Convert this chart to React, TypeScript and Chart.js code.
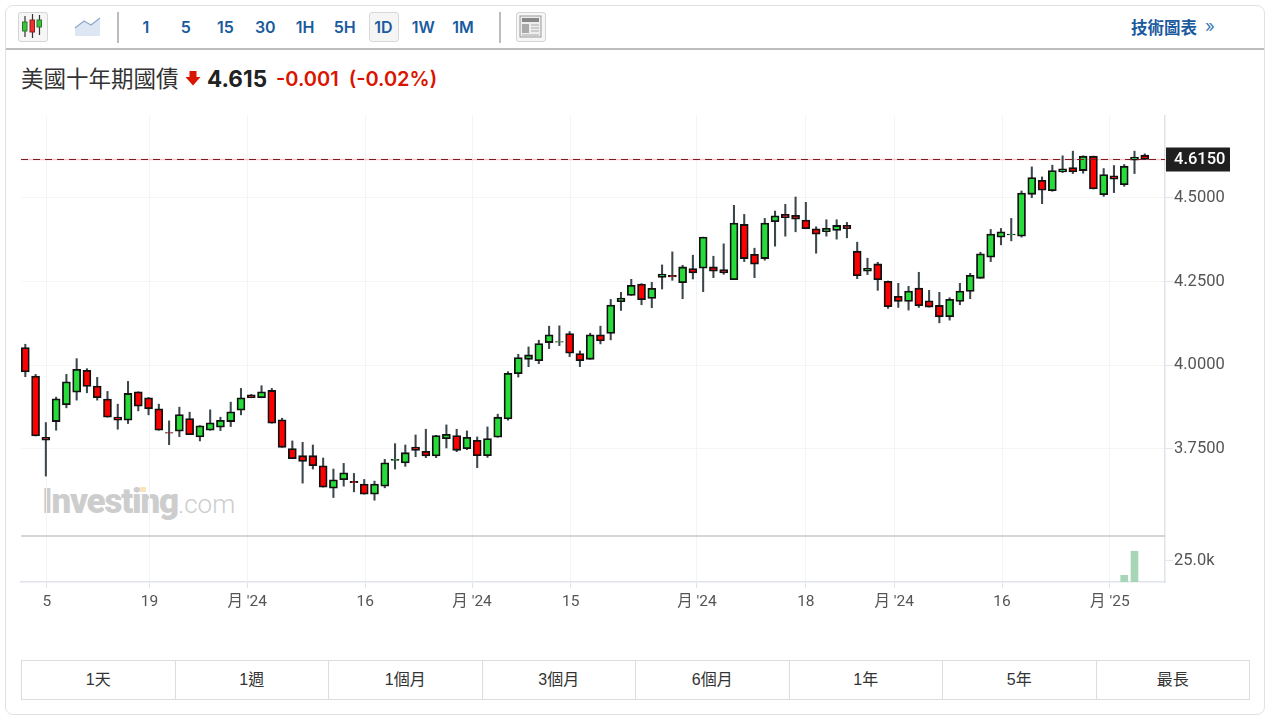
import { useEffect, useRef } from 'react';
import { Chart, registerables } from 'chart.js';

Chart.register(...registerables);

const OPENS = [
  4.053, 3.968, 3.785, 3.832, 3.882, 3.920, 3.985, 3.938, 3.899, 3.845,
  3.836, 3.921, 3.903, 3.870, 3.799, 3.803, 3.841, 3.786, 3.806, 3.815,
  3.832, 3.866, 3.912, 3.903, 3.925, 3.837, 3.751, 3.730, 3.730, 3.700,
  3.633, 3.658, 3.653, 3.645, 3.615, 3.639, 3.716, 3.708, 3.756, 3.743,
  3.729, 3.781, 3.790, 3.751, 3.776, 3.730, 3.785, 3.840, 3.975, 4.018,
  4.014, 4.068, 4.069, 4.095, 4.035, 4.018, 4.091, 4.095, 4.190, 4.209,
  4.243, 4.200, 4.263, 4.269, 4.247, 4.289, 4.290, 4.294, 4.286, 4.256,
  4.421, 4.332, 4.319, 4.429, 4.451, 4.448, 4.434, 4.408, 4.399, 4.403,
  4.418, 4.341, 4.281, 4.303, 4.251, 4.206, 4.191, 4.231, 4.193, 4.179,
  4.145, 4.191, 4.221, 4.260, 4.323, 4.383, 4.390, 4.386, 4.511, 4.553,
  4.522, 4.578, 4.591, 4.582, 4.625, 4.510, 4.566, 4.540, 4.613, 4.628,
];
const HIGHS = [
  4.063, 3.973, 3.829, 3.905, 3.973, 4.020, 3.990, 3.964, 3.922, 3.884,
  3.952, 3.921, 3.904, 3.884, 3.834, 3.875, 3.860, 3.820, 3.867, 3.845,
  3.890, 3.931, 3.913, 3.939, 3.931, 3.842, 3.774, 3.770, 3.762, 3.723,
  3.690, 3.707, 3.677, 3.659, 3.654, 3.719, 3.766, 3.762, 3.792, 3.809,
  3.791, 3.822, 3.809, 3.804, 3.786, 3.816, 3.854, 3.981, 4.033, 4.055,
  4.075, 4.117, 4.118, 4.101, 4.043, 4.096, 4.117, 4.197, 4.218, 4.257,
  4.244, 4.248, 4.300, 4.339, 4.299, 4.329, 4.383, 4.326, 4.363, 4.478,
  4.451, 4.350, 4.439, 4.461, 4.481, 4.503, 4.487, 4.414, 4.435, 4.435,
  4.427, 4.368, 4.320, 4.308, 4.252, 4.245, 4.236, 4.278, 4.224, 4.218,
  4.202, 4.245, 4.275, 4.338, 4.406, 4.409, 4.439, 4.521, 4.593, 4.563,
  4.598, 4.626, 4.640, 4.626, 4.625, 4.588, 4.597, 4.600, 4.640, 4.632,
];
const LOWS = [
  3.966, 3.789, 3.669, 3.806, 3.873, 3.896, 3.918, 3.896, 3.845, 3.809,
  3.826, 3.864, 3.852, 3.806, 3.763, 3.787, 3.793, 3.774, 3.806, 3.805,
  3.817, 3.852, 3.903, 3.903, 3.827, 3.755, 3.721, 3.648, 3.690, 3.636,
  3.605, 3.639, 3.622, 3.615, 3.597, 3.634, 3.690, 3.698, 3.727, 3.724,
  3.724, 3.753, 3.742, 3.748, 3.694, 3.725, 3.785, 3.836, 3.965, 3.996,
  4.005, 4.050, 4.059, 4.026, 3.996, 4.018, 4.064, 4.076, 4.164, 4.209,
  4.181, 4.172, 4.228, 4.254, 4.199, 4.258, 4.220, 4.262, 4.272, 4.256,
  4.310, 4.262, 4.314, 4.356, 4.386, 4.399, 4.408, 4.335, 4.386, 4.377,
  4.381, 4.259, 4.271, 4.224, 4.170, 4.173, 4.165, 4.173, 4.174, 4.127,
  4.135, 4.181, 4.199, 4.260, 4.310, 4.360, 4.372, 4.383, 4.501, 4.483,
  4.520, 4.576, 4.573, 4.574, 4.527, 4.505, 4.516, 4.535, 4.573, 4.615,
];
const CLOSES = [
  3.980, 3.789, 3.776, 3.900, 3.951, 3.988, 3.937, 3.903, 3.845, 3.836,
  3.916, 3.878, 3.870, 3.806, 3.797, 3.853, 3.793, 3.819, 3.828, 3.836,
  3.861, 3.903, 3.903, 3.921, 3.827, 3.755, 3.721, 3.713, 3.700, 3.636,
  3.658, 3.679, 3.649, 3.615, 3.645, 3.709, 3.719, 3.739, 3.746, 3.729,
  3.790, 3.794, 3.746, 3.785, 3.730, 3.781, 3.845, 3.976, 4.023, 4.031,
  4.065, 4.091, 4.071, 4.036, 4.014, 4.091, 4.073, 4.180, 4.201, 4.239,
  4.196, 4.230, 4.273, 4.264, 4.294, 4.276, 4.383, 4.281, 4.276, 4.425,
  4.319, 4.302, 4.425, 4.447, 4.441, 4.437, 4.408, 4.392, 4.409, 4.418,
  4.408, 4.268, 4.290, 4.256, 4.175, 4.191, 4.222, 4.178, 4.174, 4.145,
  4.197, 4.222, 4.269, 4.333, 4.392, 4.399, 4.392, 4.515, 4.561, 4.523,
  4.582, 4.587, 4.578, 4.625, 4.527, 4.570, 4.556, 4.595, 4.622, 4.615,
];
const VOLUME_DAYS = [107, 108];
const VOLUMES = [7800, 35900];
const LAST_PRICE = 4.615;

const PRICE_TICKS = [3.75, 4, 4.25, 4.5];
const VOLUME_TICKS = [25000];
const X_TICKS = [2.1, 12.1, 21.6, 33.1, 43.5, 53.1, 65.4, 76, 84.6, 95.1, 105.6];
const X_LABELS = ['5', '19', "月 '24", '16', "月 '24", '15', "月 '24", '18', "月 '24", '16', "月 '25"];

const PERIODS = ['1', '5', '15', '30', '1H', '5H', '1D', '1W', '1M'];
const RANGES = ['1天', '1週', '1個月', '3個月', '6個月', '1年', '5年', '最長'];

const FONT = 'Roboto, "Noto Sans CJK TC", sans-serif';
const UI_FONT = 'Inter, "Noto Sans CJK TC", sans-serif';
const BLUE = '#1a5a9e';
const RED = '#ff0000';
const GREEN = '#27dc3a';

// separator between the panes and the dark box holding the last price
const paneDecor = {
  id: 'paneDecor',
  afterDraw(chart: any) {
    const { ctx, scales, chartArea } = chart;
    ctx.save();
    ctx.strokeStyle = '#c9c9c9';
    ctx.lineWidth = 1.5;
    ctx.beginPath();
    ctx.moveTo(chartArea.left, scales.y.bottom);
    ctx.lineTo(chartArea.right, scales.y.bottom);
    ctx.stroke();

    const y = scales.y.getPixelForValue(LAST_PRICE);
    ctx.fillStyle = '#1f1f1f';
    ctx.fillRect(chartArea.right + 1, y - 12, 64, 24);
    ctx.fillStyle = '#ffffff';
    ctx.font = `500 16.5px ${FONT}`;
    ctx.textBaseline = 'middle';
    ctx.fillText(LAST_PRICE.toFixed(4), chartArea.right + 9, y + 0.5);
    ctx.restore();
  },
};

function CandleChart() {
  const canvasRef = useRef<HTMLCanvasElement>(null);
  const chartRef = useRef<Chart | null>(null);

  useEffect(() => {
    if (!canvasRef.current) return;
    if (chartRef.current) chartRef.current.destroy();

    const xMin = -0.42;
    const xMax = 110.97;

    chartRef.current = new Chart(canvasRef.current, {
      type: 'bar',
      data: {
        datasets: [
          {
            type: 'line',
            data: [{ x: xMin, y: LAST_PRICE }, { x: xMax, y: LAST_PRICE }],
            borderColor: '#7c1c24',
            borderWidth: 1,
            borderDash: [7, 5],
            pointRadius: 0,
            yAxisID: 'y',
            order: 0,
          },
          {
            type: 'line',
            data: [{ x: xMin, y: LAST_PRICE }, { x: xMax, y: LAST_PRICE }],
            borderColor: '#f8c9cc',
            borderWidth: 1.5,
            pointRadius: 0,
            yAxisID: 'y',
            order: 3,
          },
          {
            data: OPENS.map((o, i) => ({ x: i, y: [Math.min(o, CLOSES[i]), Math.max(o, CLOSES[i])] })),
            backgroundColor: OPENS.map((o, i) => (CLOSES[i] < o ? RED : GREEN)),
            borderColor: '#111111',
            borderWidth: 1.8,
            borderSkipped: false,
            barThickness: 8,
            grouped: false,
            yAxisID: 'y',
            order: 1,
          },
          {
            data: OPENS.map((_, i) => ({ x: i, y: [LOWS[i], HIGHS[i]] })),
            backgroundColor: '#3c474c',
            barThickness: 1.4,
            grouped: false,
            yAxisID: 'y',
            order: 2,
          },
          {
            data: VOLUME_DAYS.map((d, i) => ({ x: d, y: VOLUMES[i] })),
            backgroundColor: '#a6d6b6',
            barThickness: 7,
            grouped: false,
            yAxisID: 'volume',
            order: 2,
          },
        ],
      } as any,
      options: {
        animation: false,
        responsive: false,
        layout: { padding: { left: 21, top: 15 } },
        plugins: { legend: { display: false }, tooltip: { enabled: false } },
        scales: {
          x: {
            type: 'linear',
            offset: false,
            min: xMin,
            max: xMax,
            afterBuildTicks: (s: any) => { s.ticks = X_TICKS.map(value => ({ value })); },
            afterFit: (s: any) => { s.height = 39; },
            grid: { offset: false, color: '#f3f4f7', tickColor: '#e0e3eb', tickLength: 6 },
            border: { color: '#e0e3eb', width: 1.5 },
            ticks: {
              autoSkip: false,
              maxRotation: 0,
              color: '#555555',
              padding: 5,
              font: { family: FONT, size: 15.5 },
              callback: (v: any) => X_LABELS[X_TICKS.indexOf(v)],
            },
          },
          y: {
            position: 'right',
            stack: 'panes',
            stackWeight: 420,
            min: 3.49,
            max: 4.745,
            afterBuildTicks: (s: any) => { s.ticks = PRICE_TICKS.map(value => ({ value })); },
            afterFit: (s: any) => { s.width = 105; },
            grid: { color: '#f5f5f5', tickColor: '#e4e6ea', tickLength: 8 },
            border: { color: '#e0e3eb', width: 1.5 },
            ticks: {
              crossAlign: 'near',
              color: '#555555',
              padding: 1,
              font: { family: FONT, size: 16.5 },
              callback: (v: any) => Number(v).toFixed(4),
            },
          },
          volume: {
            position: 'right',
            stack: 'panes',
            stackWeight: 46,
            min: 0,
            max: 53700,
            afterBuildTicks: (s: any) => { s.ticks = VOLUME_TICKS.map(value => ({ value })); },
            afterFit: (s: any) => { s.width = 105; },
            grid: { drawOnChartArea: false, tickColor: '#e4e6ea', tickLength: 8 },
            border: { color: '#e0e3eb', width: 1.5 },
            ticks: {
              crossAlign: 'near',
              color: '#555555',
              padding: 1,
              font: { family: FONT, size: 16.5 },
              callback: (v: any) => `${(Number(v) / 1000).toFixed(1)}k`,
            },
          },
        },
      } as any,
      plugins: [paneDecor],
    });

    return () => { chartRef.current?.destroy(); };
  }, []);

  return (
    <canvas
      ref={canvasRef}
      width={1270}
      height={520}
      style={{ position: 'absolute', left: 0, top: 101, width: 1270, height: 520 }}
    />
  );
}

function IconBox({ left, children }: { left: number; children: any }) {
  return (
    <div style={{
      position: 'absolute', left, top: 12, width: 30, height: 30, boxSizing: 'border-box',
      border: '1.5px solid #d4d4d4', borderRadius: 3, background: '#f6f6f6',
    }}>
      {children}
    </div>
  );
}

export default function App() {
  return (
    <div style={{ position: 'absolute', left: 0, top: 0, width: 1270, height: 723, background: '#fff', overflow: 'hidden', fontFamily: UI_FONT }}>
      <div style={{ position: 'absolute', left: 5, top: 5, width: 1260, height: 710, boxSizing: 'border-box', border: '1.5px solid #e2e2e2', borderRadius: 8 }} />
      <div style={{ position: 'absolute', left: 6, top: 48, width: 1258, height: 2, background: '#bdbdbd' }} />

      <IconBox left={18}>
        <svg width="27" height="27" viewBox="0 0 27 27">
          <path d="M6 3V24M13.5 1V25M20.5 2V22" stroke="#333" strokeWidth="1.2" />
          <rect x="3.5" y="9" width="4.5" height="9" fill="#3cc13c" stroke="#2a7a2a" />
          <rect x="11" y="7" width="4.5" height="12" fill="#ef3030" stroke="#8a2020" />
          <rect x="18" y="7" width="4.5" height="7" fill="#3cc13c" stroke="#2a7a2a" />
        </svg>
      </IconBox>
      <svg width="28" height="24" viewBox="0 0 28 24" style={{ position: 'absolute', left: 74, top: 15 }}>
        <path d="M1 13L10 6L17 10L26 3V21H1Z" fill="#dde6f3" />
        <path d="M1 13L10 6L17 10L26 3" fill="none" stroke="#8fa8cc" strokeWidth="1.2" />
      </svg>
      <div style={{ position: 'absolute', left: 117, top: 12, width: 1.5, height: 31, background: '#bbb' }} />

      {PERIODS.map((p, i) => (
        <div key={p} style={{
          position: 'absolute', left: 131 + i * 39.75 - (i > 5 ? 1 : 0), top: 12, width: 30, height: 30, boxSizing: 'border-box', lineHeight: '29px',
          textAlign: 'center', fontSize: 16, fontWeight: 600, color: BLUE, whiteSpace: 'nowrap',
          border: p === '1D' ? '1.5px solid #d9d9d9' : '1.5px solid transparent',
          borderRadius: 3, background: p === '1D' ? '#f5f5f5' : 'transparent',
        }}>
          {p}
        </div>
      ))}
      <div style={{ position: 'absolute', left: 499, top: 12, width: 1.5, height: 31, background: '#bbb' }} />

      <IconBox left={516}>
        <svg width="27" height="27" viewBox="0 0 27 27">
          <rect x="3" y="3" width="21" height="21" fill="#eee" stroke="#999" />
          <rect x="5" y="5" width="17" height="4" fill="#888" />
          <rect x="5" y="11" width="7" height="9" fill="#aaa" />
          <path d="M14 12H22M14 15H22M14 18H22M5 22H22" stroke="#aaa" strokeWidth="1.2" />
        </svg>
      </IconBox>

      <div style={{ position: 'absolute', left: 1131, top: 15, fontSize: 16.5, fontWeight: 700, color: BLUE, whiteSpace: 'nowrap' }}>技術圖表</div>
      <div style={{ position: 'absolute', left: 1205, top: 16, fontSize: 17, lineHeight: '20px', color: '#3c78b8' }}>»</div>

      <div style={{ position: 'absolute', left: 21, top: 61, fontSize: 22.5, color: '#333', whiteSpace: 'nowrap', fontFamily: '"Noto Sans CJK TC", sans-serif', lineHeight: '32px' }}>美國十年期國債</div>
      <svg width="16" height="16" viewBox="0 0 16 16" style={{ position: 'absolute', left: 185, top: 70 }}>
        <path d="M4.5 1H11.5V7H15.5L8 15.5L0.5 7H4.5Z" fill="#d91400" />
      </svg>
      <div style={{ position: 'absolute', left: 207, top: 64, fontSize: 22.5, fontWeight: 700, color: '#222', lineHeight: '30px' }}>4.615</div>
      <div style={{ position: 'absolute', left: 276, top: 64, fontSize: 20, fontWeight: 600, color: '#d91400', lineHeight: '30px', whiteSpace: 'nowrap' }}>
        -0.001&nbsp;&nbsp;(-0.02%)
      </div>

      <div style={{ position: 'absolute', left: 42, top: 480, color: '#cdcdcd', fontFamily: 'Roboto, sans-serif', whiteSpace: 'nowrap', lineHeight: '44px' }}>
        <span style={{ fontSize: 35, fontWeight: 900, letterSpacing: -1.2 }}>Investing</span>
        <span style={{ fontSize: 26, fontWeight: 300 }}>.com</span>
      </div>
      <div style={{ position: 'absolute', left: 140, top: 487, width: 6, height: 5, background: '#fde3ba' }} />

      <CandleChart />

      <div style={{ position: 'absolute', left: 21, top: 660, width: 1229, height: 40, boxSizing: 'border-box', border: '1.5px solid #dddddd', display: 'flex' }}>
        {RANGES.map((r, i) => (
          <div key={r} style={{
            flex: 1, textAlign: 'center', lineHeight: '37px', fontSize: 16, color: '#333',
            fontFamily: '"Liberation Sans", "Noto Sans CJK TC", sans-serif',
            borderLeft: i ? '1.5px solid #dddddd' : 'none',
          }}>
            {r}
          </div>
        ))}
      </div>
    </div>
  );
}
